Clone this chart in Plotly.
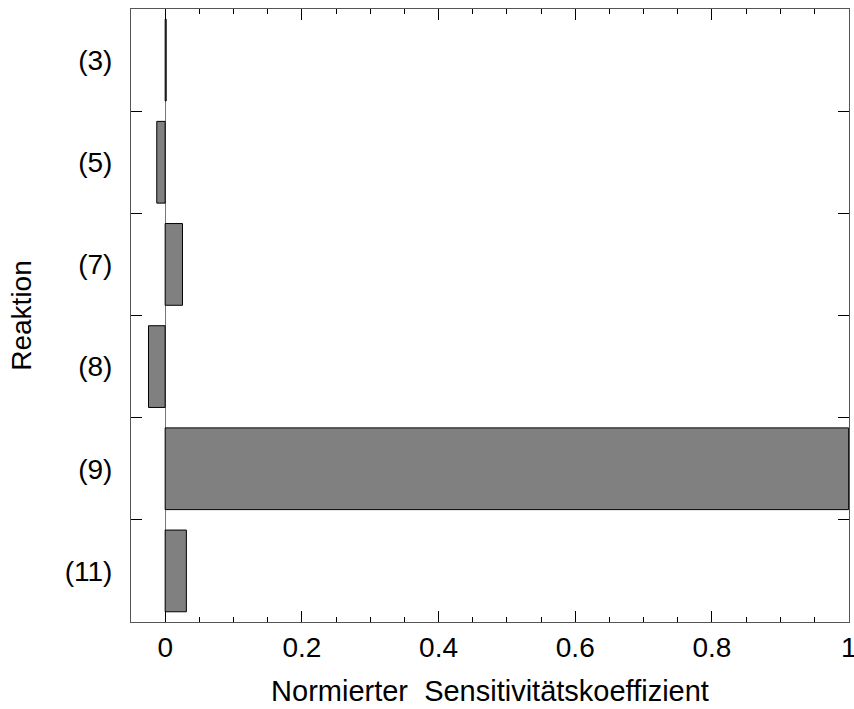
import plotly.graph_objects as go

reactions = ["(3)", "(5)", "(7)", "(8)", "(9)", "(11)"]
coefficients = [0.0015, -0.0123, 0.0253, -0.0244, 1.0, 0.031]

x_tick_vals = [0, 0.2, 0.4, 0.6, 0.8, 1]
x_tick_text = ["0", "0.2", "0.4", "0.6", "0.8", "1"]

FONT = "Liberation Sans, Arial, Helvetica, sans-serif"
FRAME = "#555555"

fig = go.Figure(
    go.Bar(
        x=coefficients,
        y=reactions,
        orientation="h",
        width=0.8,
        marker=dict(color="#808080", line=dict(color="black", width=1)),
    )
)

fig.update_layout(
    width=854,
    height=709,
    margin=dict(l=131, r=5, t=9, b=87),
    paper_bgcolor="white",
    plot_bgcolor="white",
    showlegend=False,
    font=dict(family=FONT, size=28, color="black"),
    bargap=0.2,
)

fig.update_xaxes(
    range=[-0.05, 1.0005],
    tickmode="array",
    tickvals=x_tick_vals,
    ticktext=x_tick_text,
    ticks="inside",
    ticklen=11,
    tickwidth=1,
    tickcolor="black",
    minor=dict(dtick=0.05, tick0=0, ticks="inside", ticklen=5, tickcolor="black"),
    showline=True,
    linecolor=FRAME,
    linewidth=1,
    mirror="ticks",
    showgrid=False,
    zeroline=True,
    zerolinecolor="#777777",
    zerolinewidth=1,
    tickfont=dict(size=28),
    ticklabelstandoff=0,
    ticklabeloverflow="allow",
    title=dict(text="Normierter\u00a0 Sensitivitätskoeffizient", font=dict(size=29), standoff=19),
    automargin=False,
)

fig.update_yaxes(
    type="category",
    categoryorder="array",
    categoryarray=reactions,
    autorange="reversed",
    tickson="boundaries",
    ticks="inside",
    ticklen=11,
    tickwidth=1,
    tickcolor="black",
    showline=True,
    linecolor=FRAME,
    linewidth=1,
    mirror="ticks",
    showgrid=False,
    tickfont=dict(size=28),
    ticklabelstandoff=12,
    title=dict(text="Reaktion", font=dict(size=28), standoff=24),
    automargin=False,
)

fig.write_html("out.html")
